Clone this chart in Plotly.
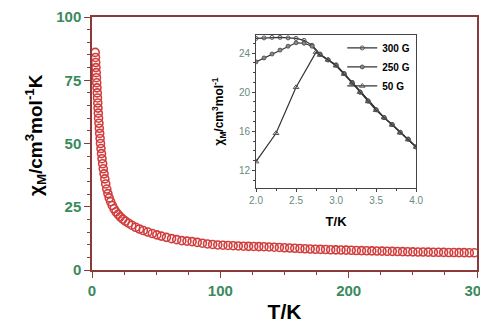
import plotly.graph_objects as go

# Main data: chi_M*T vs T
T_main = [2.5, 2.7, 2.9, 3.1, 3.3, 3.5, 3.7, 3.9, 4.1, 4.3, 4.5, 4.7, 4.9, 5.1, 5.4, 5.7, 6.0, 6.3, 6.6,
          7.0, 7.4, 7.8, 8.3, 8.8, 9.4, 10.0, 10.7, 11.5, 12.4, 13.4, 14.5, 15.8, 17.2, 18.7, 20.3, 22, 24,
          26, 28.5, 31, 34, 37, 40, 43.5, 47, 50.5, 54, 58, 62, 66,
          70, 74, 78, 82, 86, 90, 94, 98, 102, 106, 110, 114, 118, 122, 126, 130, 134, 138, 142, 146,
          150, 154, 158, 162, 166, 170, 174, 178, 182, 186, 190, 194, 198, 202, 206, 210, 214, 218, 222,
          226, 230, 234, 238, 242, 246, 250, 254, 258, 262, 266, 270, 274, 278, 282, 286, 290, 294, 298]
chi_main = [86, 84, 82, 80, 78, 76, 74, 72, 70, 68, 66, 64, 62, 60, 58, 56, 54, 52, 50,
            48, 46, 44, 42, 40, 38, 36, 34, 32, 30.2, 28.5, 27, 25.5, 24.2, 23, 22, 21, 20.1,
            19.3, 18.5, 17.7, 16.9, 16.2, 15.6, 15.0, 14.4, 13.9, 13.4, 12.9, 12.4, 12.0,
            11.6, 11.4, 11.2, 10.9, 10.6, 10.3, 10.1, 9.9, 9.8, 9.7, 9.6, 9.5, 9.4, 9.35, 9.3, 9.25, 9.2, 9.1, 9.0, 8.9,
            8.8, 8.7, 8.6, 8.5, 8.4, 8.3, 8.2, 8.15, 8.1, 8.0, 7.95, 7.9, 7.85, 7.8, 7.7, 7.65, 7.6, 7.55, 7.5,
            7.45, 7.4, 7.35, 7.3, 7.25, 7.2, 7.15, 7.1, 7.1, 7.05, 7.0, 7.0, 6.95, 6.9, 6.9, 6.85, 6.85, 6.8, 6.8]

# Inset data
T_300 = [2.0, 2.1, 2.2, 2.3, 2.4, 2.5, 2.6, 2.7, 2.8, 2.9, 3.0, 3.1, 3.2, 3.3, 3.4, 3.5, 3.6, 3.7, 3.8, 3.9, 4.0]
chi_300 = [25.5, 25.55, 25.6, 25.6, 25.55, 25.5, 25.3, 24.8, 23.9, 23.3, 22.8, 21.9, 21.0, 20.0, 19.1, 18.2, 17.4, 16.7, 15.9, 15.2, 14.4]
T_250 = [2.0, 2.1, 2.2, 2.3, 2.4, 2.5, 2.6, 2.7, 2.8, 2.9, 3.0, 3.1, 3.2, 3.3, 3.4, 3.5, 3.6, 3.7, 3.8, 3.9, 4.0]
chi_250 = [23.1, 23.5, 23.9, 24.3, 24.7, 25.05, 25.0, 24.7, 23.85, 23.3, 22.75, 21.9, 21.0, 20.0, 19.1, 18.2, 17.4, 16.7, 15.9, 15.2, 14.4]
T_50 = [2.0, 2.25, 2.5, 2.75, 2.8, 2.9, 3.0, 3.1, 3.2, 3.3, 3.4, 3.5, 3.6, 3.7, 3.8, 3.9, 4.0]
chi_50 = [12.9, 15.8, 20.5, 24.1, 23.8, 23.3, 22.7, 21.85, 20.95, 20.0, 19.05, 18.15, 17.4, 16.65, 15.85, 15.15, 14.4]

main_ticks = [0, 100, 200, 300]
main_yticks = [0, 25, 50, 75, 100]
inset_xticks = [2.0, 2.5, 3.0, 3.5, 4.0]
inset_yticks = [12, 16, 20, 24]

FONT = "Liberation Sans"
GREEN = "#3a8a5e"
FRAME = "#8b3a3a"

fig = go.Figure()
fig.add_trace(go.Scatter(x=T_main, y=chi_main, mode="markers", showlegend=False,
                         marker=dict(symbol="circle-open", size=8, color="#d23c3c", line=dict(width=1.6))))

fig.add_trace(go.Scatter(x=T_300, y=chi_300, mode="lines+markers", name="<b>300 G</b>",
                         xaxis="x2", yaxis="y2",
                         line=dict(color="#333333", width=1.2),
                         marker=dict(symbol="circle-open", size=4, color="#555555")))
fig.add_trace(go.Scatter(x=T_250, y=chi_250, mode="lines+markers", name="<b>250 G</b>",
                         xaxis="x2", yaxis="y2",
                         line=dict(color="#333333", width=1.2),
                         marker=dict(symbol="circle", size=4, color="#888888", line=dict(color="#444444", width=0.8))))
fig.add_trace(go.Scatter(x=T_50, y=chi_50, mode="lines+markers", name="<b>50 G</b>",
                         xaxis="x2", yaxis="y2",
                         line=dict(color="#333333", width=1.2),
                         marker=dict(symbol="triangle-up-open", size=5, color="#555555")))

fig.update_layout(
    width=472, height=315,
    margin=dict(l=84, r=3, t=9, b=53),
    paper_bgcolor="white", plot_bgcolor="white",
    font=dict(family=FONT),
    xaxis=dict(range=[0, 300], tickvals=main_ticks, ticktext=[f"<b>{v}</b>" for v in main_ticks],
               tickfont=dict(size=15, color=GREEN), showgrid=False, zeroline=False, automargin=False,
               ticklabeloverflow="allow",
               showline=True, linecolor=FRAME, linewidth=1.5, mirror=True,
               ticks="outside", ticklen=6, tickcolor=FRAME, tickwidth=1.2,
               minor=dict(dtick=25, ticks="outside", ticklen=3, tickcolor=FRAME),
               title=dict(text="<b>T/K</b>", font=dict(size=21, color="black"), standoff=10)),
    yaxis=dict(range=[0, 100], tickvals=main_yticks, ticktext=[f"<b>{v}</b>" for v in main_yticks],
               tickfont=dict(size=15, color=GREEN), showgrid=False, zeroline=False, automargin=False,
               ticklabeloverflow="allow",
               showline=True, linecolor=FRAME, linewidth=1.5, mirror=True,
               ticks="outside", ticklen=6, tickcolor=FRAME, tickwidth=1.2,
               minor=dict(dtick=5, ticks="outside", ticklen=3, tickcolor=FRAME)),
    xaxis2=dict(domain=[0.426, 0.842], anchor="y2", range=[2.0, 4.0], tickvals=inset_xticks,
                ticktext=[f"{v:.1f}" for v in inset_xticks], automargin=False,
                tickfont=dict(size=10, color="#6a8a7a"), showgrid=False, zeroline=False,
                showline=True, linecolor="#444444", linewidth=1, mirror=True,
                ticks="outside", ticklen=3, tickcolor="#444444",
                minor=dict(dtick=0.25, ticks="outside", ticklen=2, tickcolor="#444444"),
                title=dict(text="<b>T/K</b>", font=dict(size=13, color="black"), standoff=11)),
    yaxis2=dict(domain=[0.324, 0.929], anchor="x2", range=[10.2, 25.85], tickvals=inset_yticks,
                tickfont=dict(size=10, color="#6a8a7a"), showgrid=False, zeroline=False, automargin=False,
                showline=True, linecolor="#444444", linewidth=1, mirror=True,
                ticks="outside", ticklen=3, tickcolor="#444444",
                minor=dict(dtick=1, ticks="outside", ticklen=2, tickcolor="#444444"),
                title=dict(text="<b>χ<sub>M</sub>/cm<sup>3</sup>mol<sup>-1</sup></b>",
                           font=dict(size=12, color="black"), standoff=12)),
    legend=dict(x=0.65, y=0.935, xanchor="left", yanchor="top", bgcolor="rgba(0,0,0,0)",
                font=dict(size=10, color="black"), tracegroupgap=0, itemwidth=30),
    annotations=[dict(text="<b>χ<sub>M</sub>/cm<sup>3</sup>mol<sup>-1</sup>K</b>",
                      xref="paper", yref="paper", x=-0.145, y=0.534, textangle=-90,
                      showarrow=False, xanchor="center", yanchor="middle",
                      font=dict(size=19, color="black", family=FONT))],
)

fig.write_html("out.html")
